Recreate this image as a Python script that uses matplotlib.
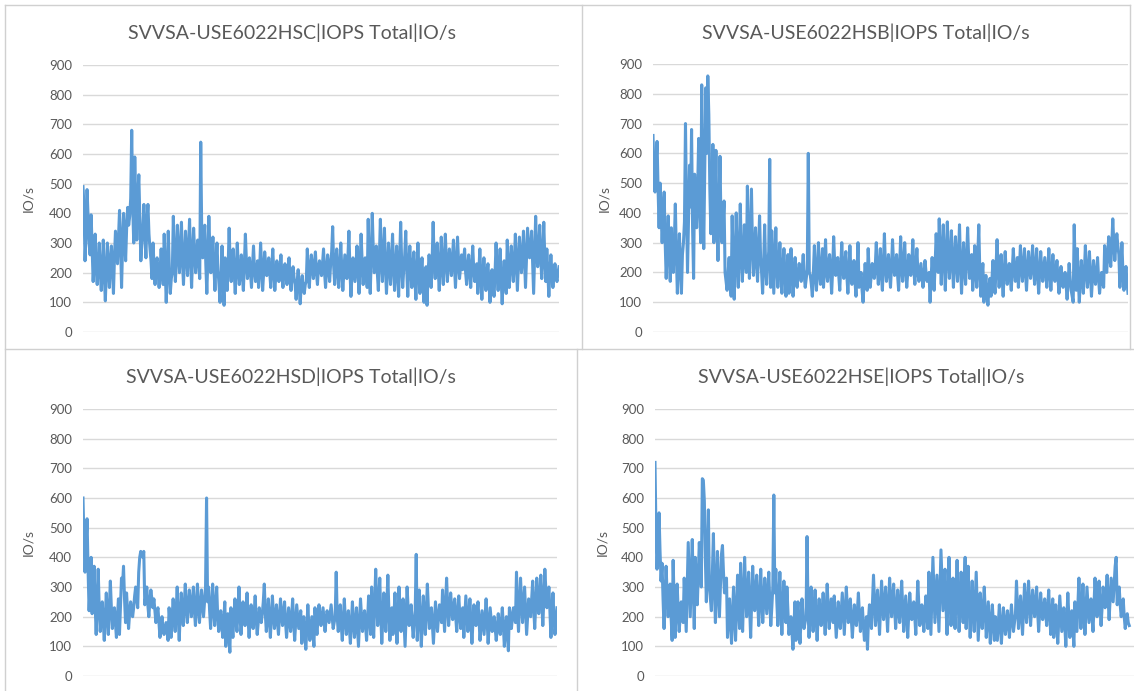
import numpy as np
import matplotlib
matplotlib.use("Agg")
import matplotlib.pyplot as plt
from matplotlib.lines import Line2D

plt.rcParams["font.family"] = ["Lato", "DejaVu Sans"]

TEXT = "#595959"
GRID = "#D9D9D9"
BORDER = "#D0D0D0"
BLUE = "#5B9BD5"

titles = ["SVVSA-USE6022HSC|IOPS Total|IO/s",
          "SVVSA-USE6022HSB|IOPS Total|IO/s",
          "SVVSA-USE6022HSD|IOPS Total|IO/s",
          "SVVSA-USE6022HSE|IOPS Total|IO/s"]
yticks = [0, 100, 200, 300, 400, 500, 600, 700, 800, 900]
ylabel = "IO/s"

# values (IO/s), left to right
hsc = [490, 420, 240, 330, 480, 390, 300, 260, 395, 280, 170, 240,
       330, 210, 160, 230, 300, 200, 140, 220, 310, 190, 105, 200, 300, 220, 150, 240,
       290, 210, 130, 250, 340, 280, 230, 320, 410, 300, 150, 290, 400, 330, 240, 350, 420, 360,
       390, 450, 680, 420, 300,
       590, 420, 310, 460, 530, 380, 240, 300, 350,
       430, 320, 250, 380, 430, 330, 280, 240, 180,
       300, 220, 160, 230, 250, 200, 150, 210, 280, 200, 160,
       330, 220, 100, 200, 340, 220, 130, 180, 200,
       390, 260, 170, 250, 360, 270, 200, 280, 370, 240, 160, 250, 340, 260, 190, 290, 380, 250,
       150, 260, 350, 270, 200, 250, 310, 240, 180,
       640, 330,
       250, 300, 360, 230, 130, 250, 390, 280, 200, 260, 320, 220, 140, 230, 300, 210, 160,
       100, 180, 290, 170, 90,
       250, 190, 140, 220, 350, 230, 170, 240, 280, 200, 130, 210, 300, 220, 160, 200, 260, 190,
       140, 230, 330, 240, 180, 210, 250, 200, 150, 220, 290, 210, 170, 200, 240,
       150, 210, 300, 220, 140, 200, 270, 230, 190, 210, 250, 200, 150, 220, 280, 200, 140, 190,
       240, 210, 170, 200, 260, 190, 150, 200, 230, 190, 160, 210, 250, 180, 140, 190, 220, 180, 160,
       110, 170, 210, 150, 95, 160, 190, 150, 130, 160, 170,
       280, 200, 150, 220, 260, 210, 180, 230, 270, 200, 160, 220, 240, 210, 190, 230, 280, 200,
       150, 210, 260, 220, 170, 230, 270,
       355, 220,
       160, 230, 280, 200, 150, 220, 300, 210, 140, 200, 260, 220, 180, 250, 340, 210, 120, 190,
       250, 210, 170, 230, 290, 200, 130, 220, 330, 240, 160, 210, 250, 200, 150,
       380, 230, 130, 250, 400, 280, 200, 240, 290, 200, 140, 250, 380, 250, 170, 260, 350, 220,
       130, 210, 300, 230, 160, 240, 330, 220, 140, 210, 290, 200, 120, 240, 370, 230, 150, 210, 260,
       340, 210, 120, 220, 290, 210, 150, 220, 270, 180, 110, 210, 300, 200, 130, 200, 250, 170,
       100, 180, 220,
       90, 200,
       260, 210, 150, 240, 370, 240, 180, 250, 300, 210, 140, 230, 320, 220, 160, 240, 330, 240,
       170, 230, 280, 230, 190, 250, 310, 220, 150, 230, 320, 240, 180, 220, 260,
       210, 240, 280, 200, 160, 220, 260, 200, 150, 220, 290, 210, 170, 200, 230,
       130, 200, 280, 190, 110, 190, 250, 190, 140, 200, 230, 170, 100, 170, 210, 160, 120, 200,
       300, 210, 140, 210, 280, 180, 95, 180, 240, 180, 130,
       310, 220, 150, 230, 290, 220, 170, 240, 330, 230, 140, 230, 320, 250, 200, 260, 340, 240,
       150, 250, 350, 290, 250, 280, 340, 230, 130, 260, 390, 280, 220, 270, 360, 250, 180, 260,
       370, 250, 170,
       280, 200, 120, 200, 260, 200, 150, 190, 230, 190, 170, 200, 220]

hsb = [660, 540, 470, 560, 640, 480, 350,
       500, 400, 300, 390, 470, 300, 180, 280, 390, 260, 170,
       350, 250, 200, 300, 430, 260, 130, 230, 330, 220, 130,
       260, 300, 370,
       700, 420, 200, 380, 560, 420, 680, 350, 180,
       530, 420, 350, 480, 650, 420, 300,
       830, 500, 280, 550, 820, 600, 860,
       730, 480, 330, 450, 630,
       300, 420, 610, 380, 240, 400, 590, 360, 300, 360, 440,
       200, 170, 140, 200, 250, 160, 120,
       390, 230, 110, 250, 400, 230, 150, 270, 430, 260, 170, 250, 360, 240, 200,
       490, 300, 180, 320, 480, 290, 190, 260, 350, 240, 170, 280, 390,
       250, 200, 130, 230, 360, 220, 160, 220, 270, 580, 150,
       340, 230, 130, 240, 350, 220, 150, 230, 300, 200, 130, 210, 280, 190, 120, 180, 260,
       130, 200, 280, 190, 120, 190, 250, 180, 150, 200, 230, 200, 170, 210, 260, 190, 150, 180, 210,
       600, 200,
       190, 160, 120, 200, 290, 190, 140, 210, 300, 200, 160, 220, 280,
       150, 220, 310, 200, 170, 230, 260, 200, 130, 210, 320, 230, 190, 220, 250, 190, 140, 220,
       300, 210, 180, 230, 270, 190, 130, 200, 290, 200, 160, 200, 240, 170, 120, 200, 300,
       150, 180, 200, 140, 100, 170, 230, 180, 140,
       280, 200, 150, 190, 230, 200, 180, 220, 300, 210, 160, 220, 280, 190, 140, 230, 330, 220,
       170, 210, 260, 200, 150, 220, 310, 230, 190, 220, 260, 190, 140, 220, 320, 220, 170, 230,
       300, 210, 150, 200, 260, 210, 190, 230, 310, 210, 160, 220, 280, 200, 170, 200, 230, 190,
       150, 190, 240, 200, 170, 190, 200,
       100, 180, 250, 180, 140, 230, 330, 250, 200,
       380, 260, 160, 270, 360, 240, 140, 260, 370, 250, 180, 260, 340, 230, 150, 240, 320, 230,
       170, 260, 360, 220, 130, 220, 300, 210, 160, 250, 350, 250, 180, 220, 260,
       140, 200, 290, 200, 150, 250, 360, 200, 120, 180, 230,
       100, 150, 190, 130, 90, 150, 180,
       120, 180, 240, 170, 130, 220, 310, 210, 150, 200, 260, 180, 120, 200, 270, 200, 160, 190,
       230, 180, 140, 210, 280, 210, 170, 210, 250,
       150, 210, 290, 220, 170, 220, 280, 200, 140, 210, 270, 210, 180, 230, 290, 210, 160, 220,
       280, 190, 130, 200, 270, 210, 170, 210, 250, 200, 150, 210, 280, 200, 140, 200, 260, 200,
       170, 200, 240, 180, 130, 180, 220, 180, 150, 180, 200, 160, 110, 170, 230, 180, 140, 120, 100,
       360, 200, 140,
       280, 180, 100, 170, 240, 180, 130, 200, 290, 210, 150, 200, 270, 190, 120, 180, 240, 190,
       160, 200, 250, 180, 130, 170, 200, 170, 150,
       290, 240, 200, 260, 320, 250, 220, 290, 380, 300, 240, 290, 330, 290, 260,
       150, 220, 300, 200, 140, 180, 220, 170, 130]

hsd = [600, 450, 350, 440, 530, 360, 220, 300, 400,
       210, 290, 370, 240, 140, 250, 360, 230,
       150, 200, 250, 180, 120, 200, 280, 200, 140, 230, 320, 230, 160, 200, 230, 180, 130, 200, 260,
       140, 240, 330, 300, 370, 260, 180,
       280, 220, 160, 210, 250, 220, 200, 230, 270,
       300, 260, 230, 350, 400, 420, 410, 400, 420,
       240, 270, 300, 240, 200, 250, 290, 260, 230,
       260, 220, 180, 210, 230, 180, 130, 170, 200, 160, 140, 160, 180, 150, 120,
       230, 180, 130, 200, 260, 200, 150, 220, 300, 200, 120, 210, 280, 220, 170, 240, 310, 230,
       180, 240, 290, 240, 200, 250, 300, 220, 170, 240, 310, 230, 180, 240, 290, 240, 200, 250, 300,
       600, 250,
       300, 220, 160, 230, 310, 230, 170, 240, 300, 200, 150, 190, 220, 170, 130, 190, 250,
       100, 160, 210, 140, 80,
       230, 180, 130, 200, 260, 190, 150, 220, 300, 210, 140, 190, 250, 200, 170, 220, 280, 190,
       130, 190, 240, 190, 160, 210, 270, 190, 140, 180, 230, 200, 180, 210, 250,
       310, 210, 150, 200, 260, 190, 130, 200, 270, 210, 160, 200, 240, 180, 140, 200, 260, 210,
       170, 210, 250, 180, 130, 180, 230, 190, 150, 200, 260, 180, 120, 180, 240, 200, 160, 190, 220,
       110, 160, 200, 140, 90, 160, 240, 170, 120, 160, 200, 150, 100,
       230, 180, 140, 190, 240, 200, 170, 200, 230, 190, 150, 190, 220, 200, 180, 210, 240, 200,
       160, 180, 200,
       350, 200,
       150, 190, 240, 170, 120, 190, 260, 190, 140, 180, 220, 160, 110, 180, 250, 180, 130, 180,
       230, 160, 100, 180, 260, 200, 150, 190, 220, 170, 120, 190, 270, 200, 140,
       300, 200, 130, 240, 360, 250, 170, 250, 330, 210, 110, 190, 280, 210, 150, 240, 340, 220,
       120, 180, 230,
       140, 200, 280, 190, 110, 200, 300, 220, 150, 200, 260, 180, 100, 200, 300, 230, 170, 200,
       240, 180, 130, 180, 220, 410,
       120, 200, 290, 190, 100, 180, 270, 200, 140, 220, 310, 230, 160, 200, 230, 170, 110, 180,
       250, 200, 150, 200, 240, 210, 180,
       290, 220, 150, 240, 330, 240, 170, 220, 280, 230, 190, 230, 260, 200, 150, 210, 270, 210,
       160, 200, 230,
       130, 200, 270, 210, 150, 200, 260, 180, 110, 180, 240, 200, 170, 210, 250, 190, 120, 170,
       220, 180, 140, 200, 260, 190, 110, 170, 230, 190, 150, 180, 200, 160, 120, 160, 210, 170,
       140, 180, 230, 170, 100, 150, 200, 140, 85,
       230, 200, 160, 200, 230, 200, 180,
       350, 220,
       150, 240, 330, 250, 180, 240, 300, 220, 140, 200, 260, 230, 200, 260, 320, 230, 160, 240,
       330, 270, 210, 270, 340, 250, 170, 260, 360, 290, 230, 260, 300, 220, 130, 200, 280, 200,
       140, 180, 230]

hse = [720, 480, 360, 460, 550, 420, 320,
       380, 260, 160, 260, 370, 280, 200, 250, 310, 200, 120,
       390, 250, 130, 220, 310, 220, 150, 200, 250, 210, 180,
       330, 240, 150, 300, 450, 320, 200, 330, 460, 300, 160,
       400, 310, 240, 340, 450, 380, 300,
       665, 660,
       590, 400, 250, 400, 560,
       300, 260, 220, 350, 480, 300, 180, 300, 420, 280, 200, 300, 410,
       440, 350, 280, 300, 330,
       130, 200, 260, 180, 110, 210, 300, 200, 120, 230, 340, 240, 160,
       380, 250, 150, 280, 400, 290, 200, 270, 350, 230, 130, 250, 370, 290, 220, 280, 340, 250,
       170, 260, 360, 260, 180, 250, 330, 270, 210, 280, 350, 250, 170, 230, 300,
       610, 280,
       360, 250, 170, 260, 350, 230, 140, 230, 320, 240, 180,
       300, 220, 140, 170, 200, 150, 90, 170, 250,
       120, 190, 250, 170, 110, 190, 260, 200, 160, 180, 200,
       470, 220,
       130, 210, 300, 220, 150, 220, 290, 200, 120, 200, 260, 210, 170, 220, 280, 200, 140, 220,
       310, 230, 160, 210, 260, 220, 180,
       270, 200, 130, 190, 250, 200, 160, 220, 280, 210, 140, 220, 300, 230, 180, 220, 260, 190,
       130, 190, 240, 200, 170, 220, 280, 210, 150, 190, 230, 170, 120, 160, 200,
       90, 190,
       240, 200, 160, 250, 340, 250, 170, 230, 290, 210, 140, 230, 320, 250, 190, 240, 300, 220,
       150, 240, 330, 260, 200, 250, 310, 230, 160, 220, 290, 230, 180, 250, 320, 230, 150, 210,
       270, 200, 130, 210, 280, 230, 190, 220, 250, 200, 140, 230, 320, 240, 170, 210, 240, 200,
       150, 210, 270, 210, 160,
       350, 240, 140, 270, 400, 290, 180, 260, 340, 240, 150, 290, 425, 320, 220, 290, 360, 240,
       140, 270, 400, 270, 170, 250, 330, 230, 160, 270, 390, 260, 150, 250, 350, 260, 180, 290, 400,
       160, 260, 370, 240, 130, 220, 320, 230, 150, 250, 350, 230, 120, 200, 280, 210, 160, 230,
       300, 210, 130, 190, 250, 180, 110, 180, 240, 180, 120,
       200, 160, 120, 180, 240, 170, 110, 170, 230, 180, 140, 180, 220, 170, 130, 190, 240, 190,
       150, 180, 210,
       320, 230, 160, 220, 270, 200, 140, 220, 310, 240, 180, 250, 320, 240, 170, 230, 290, 240,
       200, 250, 300, 220, 150, 210, 280, 230, 190, 220, 260, 210, 170, 230, 290, 210, 140, 200, 260,
       130, 190, 240, 170, 110, 190, 270, 210, 150, 190, 230, 170, 100, 190, 280, 200, 130, 180,
       220, 160, 100,
       250, 200, 150, 240, 330, 240, 160, 230, 310, 220, 140, 220, 300, 240, 180, 220, 260, 200,
       150, 240, 330, 260, 200, 260, 320, 240, 170, 230, 300, 260, 230, 280, 340, 260, 190, 260,
       330, 290, 250, 310, 370, 400,
       240, 270, 300, 240, 200, 230, 260, 200, 160, 190, 210, 180, 170]

series = [hsc, hsb, hsd, hse]

W, H = 1134, 691
fig = plt.figure(figsize=(W / 100, H / 100), dpi=100)


def px(x0, y0, x1, y1):
    # pixel box -> figure fraction rect
    return [x0 / W, 1 - y1 / H, (x1 - x0) / W, (y1 - y0) / H]


# axes boxes in pixels: left, y of 900, right, y of 0
boxes = [(83, 65, 559, 332),
         (653, 64, 1128, 332),
         (83, 409, 557, 676),
         (655, 409, 1134, 676)]
title_pos = [(292, 33), (866, 33), (291, 377), (861, 377)]
ylabel_x = [34, 610, 34, 608]

for i, vals in enumerate(series):
    x0, y0, x1, y1 = boxes[i]
    ax = fig.add_axes(px(x0, y0, x1, y1))
    x = np.arange(len(vals))
    ax.plot(x, vals, color=BLUE, lw=2.2)
    ax.set_ylim(0, 900)
    if i == 3:
        ax.set_xlim(0, (len(vals) - 1) * 1.01)
    else:
        ax.set_xlim(0, len(vals) - 1)
    ax.set_yticks(yticks)
    ax.set_xticks([])
    ax.grid(axis="y", color=GRID, lw=1.0)
    ax.set_axisbelow(True)
    for s in ax.spines.values():
        s.set_visible(False)
    ax.tick_params(axis="y", length=0, pad=8, labelsize=9.5, labelcolor=TEXT)
    ax.set_ylabel(ylabel, fontsize=10, color=TEXT)
    ax.yaxis.set_label_coords((ylabel_x[i] - x0) / (x1 - x0), 0.5)
    tx, ty = title_pos[i]
    fig.text(tx / W, 1 - ty / H, titles[i], ha="center", va="center",
             fontsize=14, color=TEXT)

# chart borders
segs = [((4.5, 5), (1130, 5)),
        ((4.5, 5), (4.5, 691)),
        ((582, 5), (582, 349)),
        ((1130, 5), (1130, 349)),
        ((4.5, 349), (1134, 349)),
        ((577, 349), (577, 691))]
for (ax0, ay0), (ax1, ay1) in segs:
    fig.add_artist(Line2D([ax0 / W, ax1 / W], [1 - ay0 / H, 1 - ay1 / H],
                          transform=fig.transFigure, color=BORDER, lw=1.0))

fig.savefig("out.png", dpi=100)
